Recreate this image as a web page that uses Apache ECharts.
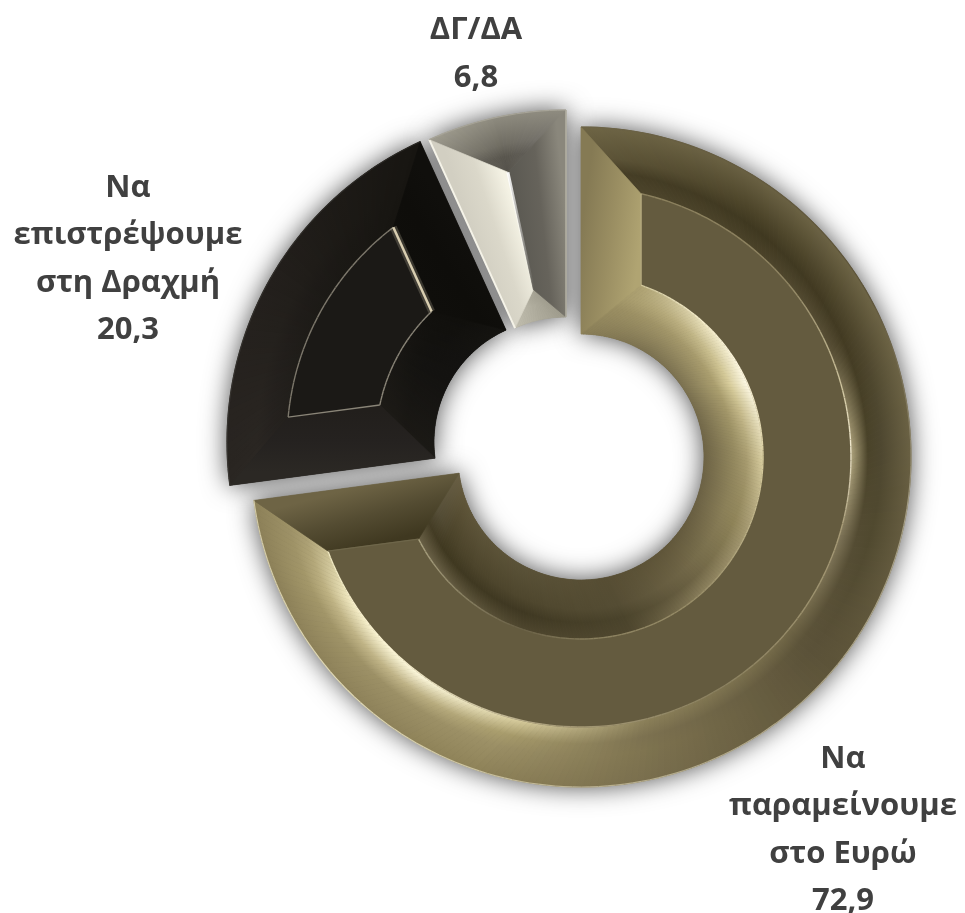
<!DOCTYPE html>
<html><head><meta charset="utf-8">
<style>html,body{margin:0;padding:0;background:#fff}#c{width:965px;height:913px}</style>
<script src="https://cdn.jsdelivr.net/npm/echarts@6/dist/echarts.min.js"></script>
</head><body><div id="c"></div>
<script>
// ---- data ----
const names = ['Να\nπαραμείνουμε\nστο Ευρώ', 'Να\nεπιστρέψουμε\nστη Δραχμή', 'ΔΓ/ΔΑ'];
const values = [72.9, 20.3, 6.8];

// ---- layout / style ----
const R = 330, HOLE = 123;
const centers = [[581, 457], [557, 442], [566, 440]];
const labelPos = [[843, 830], [128, 259], [476, 54]];
const baseColors = ['#645b3f', '#1b1916', '#8e8b7f'];
const bevel = [
  { w: 60, ro: 270, ri: 182 },
  { w: 60, ro: 270, ri: 181 },
  { w: 0, ro: 274, ri: 154 }
];
const outerKeys = [
  [[0,'#6e6545','#5c5337','#453d25','#4c442b'],[30,'#6a6143','#4c4429','#3f3820','#4a4229'],[60,'#6e6546','#4e462c','#423a22','#5a5138'],
   [85,'#6b6244','#4e4730','#4a4329','#b0a57e'],[105,'#645b3f','#50492f','#544c33','#80765a'],[130,'#5d5439','#5a5138','#5c5339','#716747'],
   [170,'#7a6f4e','#7f7450','#7c7150','#8b8059'],[200,'#8f8359','#9c9066','#a89c6c','#d8cd9e'],[225,'#8e825a','#9c9066','#c0b488','#fffbe0'],
   [250,'#8c8058','#a4986a','#bfb384','#f4ecc4'],[263,'#8c8058','#9c9066','#a89c70','#c8bd90']],
  [[262,'#2a2622','#2b2723','#272320','#23201c'],[300,'#231f1c','#211e1a','#1e1b18','#1c1a16'],[336,'#171511','#171511','#171511','#171511']],
  [[335,'#a09d90','#7d7a6f','#5f5c54','#5a574f'],[348,'#8e8b7f','#6f6c62','#58554d','#53504a'],[360,'#8f8c80','#74716a','#5f5c55','#5a574f']]
];
const innerKeys = [
  [[0,'#8a7f58','#9a8e62','#a89c6c','#aca070'],[30,'#7b7150','#a4986b','#c0b586','#f0e8c4'],[55,'#7b7150','#aca070','#d8cd9c','#fffbe8'],
   [85,'#6e6446','#94895f','#a89c70','#d8cd9f'],[110,'#6b6144','#8a7f58','#8f8459','#a89c74'],[140,'#5f5539','#6f6546','#6b6143','#8a7f5c'],
   [170,'#564d33','#544c33','#4a432b','#4e462e'],[210,'#5a5238','#4e462d','#3f3822','#4e462e'],[250,'#5f5539','#4a4229','#3f3820','#6a6147'],[263,'#6a6045','#57503a','#453d26','#6a6147']],
  [[262,'#1c1a16','#1a1814','#1c1a16','#1c1a16'],[300,'#131210','#131210','#141310','#181613'],[336,'#141310','#100f0c','#100f0c','#100f0c']],
  [[335,'#c2bfb0','#bab7a8','#aeab9c','#aeab9c'],[348,'#aeab9c','#aca99a','#a6a394','#a6a394'],[360,'#9e9b8c','#a09d8e','#a19e8f','#a19e8f']]
];
const outerRidge = [
  [[0,'#8a7f5c'],[50,'#8f8462'],[75,'#cfc59f'],[88,'#f2ead0'],[105,'#a89c78'],[150,'#8a805f'],[185,'#a89c78'],[225,'#fff8d8'],[250,'#f0e8c0'],[263,'#4b442e']],
  [[262,'#7d786c'],[336,'#7d786c']], null
];
const innerRidge = [
  [[0,'#b0a472'],[40,'#f6eecb'],[60,'#fff8e0'],[90,'#d8cd9f'],[140,'#9a8f6a'],[175,'#8a805f'],[200,'#6a6147'],[240,'#a8a07f'],[263,'#c4bb95']],
  [[262,'#8a8578'],[336,'#8a8578']], null
];
const rimLine = [
  [[0,'#6d6448'],[60,'#5c5339'],[100,'#a59e85'],[180,'#b9b090'],[225,'#e4ddba'],[263,'#cfc7a4']],
  [[262,'#3a3733'],[336,'#2a2824']],
  [[335,'#a7a498'],[360,'#a7a498']]
];
const startFacet = [['#857a54','#9a8e62','#b0a472'], ['#2b2824','#252220','#221f1c'], ['#d2cfc2','#dbd8ca','#f4f2e4']];
const endFacet = [['#6e6445','#544c32','#3f3820'], ['#100f0c','#0e0d0a','#0f0e0b'], ['#8a877c','#66635b','#5c5a53']];

const total = values.reduce((a, b) => a + b, 0);
const ranges = []; values.reduce((acc, v) => { const a = acc + v / total * 360; ranges.push([acc, a]); return a; }, 0);

function pt(c, r, deg) { const t = deg * Math.PI / 180; return [c[0] + r * Math.sin(t), c[1] - r * Math.cos(t)]; }
const lerp = (a, b, t) => a + (b - a) * t;
function rgb(h) { return [1, 3, 5].map(i => parseInt(h.substr(i, 2), 16)); }
function rgbStr(h) { return 'rgb(' + rgb(h).join(',') + ')'; }
function mix(a, b, t) { const x = rgb(a), y = rgb(b); return 'rgb(' + x.map((v, i) => Math.round(lerp(v, y[i], t))).join(',') + ')'; }
function keyAt(keys, th, col) {
  if (th <= keys[0][0]) return rgbStr(keys[0][col]);
  for (let i = 1; i < keys.length; i++) if (th <= keys[i][0]) {
    return mix(keys[i - 1][col], keys[i][col], (th - keys[i - 1][0]) / (keys[i][0] - keys[i - 1][0]));
  }
  return rgbStr(keys[keys.length - 1][col]);
}
function grad(p, q, stops) { return new echarts.graphic.LinearGradient(p[0], p[1], q[0], q[1], stops, true); }
function poly(points, fill) { return { type: 'polygon', silent: true, shape: { points }, style: { fill, stroke: fill, lineWidth: 0.7 } }; }

function band(c, rA, rB, a0, a1, b0, b1, keys, pos, out) {
  const n = Math.ceil((a1 - a0) / 1.2);
  for (let i = 0; i < n; i++) {
    const t0 = i / n, t1 = (i + 1) / n, tm = (t0 + t1) / 2, th = lerp(a0, a1, tm);
    const stops = pos.map((o, k) => ({ offset: lerp(rA, rB, o) / R, color: keyAt(keys, th, k + 1) }));
    stops.sort((x, y) => x.offset - y.offset);
    const g = new echarts.graphic.RadialGradient(c[0], c[1], R, stops, true);
    out.push(poly([pt(c, rA, lerp(a0, a1, t0)), pt(c, rA, lerp(a0, a1, t1)), pt(c, rB, lerp(b0, b1, t1)), pt(c, rB, lerp(b0, b1, t0))], g));
  }
}
function arcLine(c, r, a0, a1, keys, width, out) {
  const n = Math.ceil((a1 - a0) / 1.5);
  for (let i = 0; i < n; i++) {
    const t0 = lerp(a0, a1, i / n), t1 = lerp(a0, a1, (i + 1) / n);
    out.push({ type: 'polyline', silent: true, shape: { points: [pt(c, r, t0), pt(c, r, t1)] }, style: { fill: null, stroke: keyAt(keys, (t0 + t1) / 2, 1), lineWidth: width } });
  }
}
function segLine(p, q, color, width, out) {
  out.push({ type: 'polyline', silent: true, shape: { points: [p, q] }, style: { fill: null, stroke: color, lineWidth: width } });
}
function facet(pts, a, b, cols) {
  return poly(pts, grad(a, b, [{ offset: 0, color: cols[0] }, { offset: .5, color: cols[1] }, { offset: 1, color: cols[2] }]));
}
function drawSlice(i) {
  const out = [], c = centers[i], [a0, a1] = ranges[i], b = bevel[i], mid = (a0 + a1) / 2;
  const half = (a1 - a0) / 2;
  const d = r => b.w ? Math.asin(b.w / r) * 180 / Math.PI : half;
  const ro0 = a0 + d(b.ro), ro1 = a1 - d(b.ro), ri0 = a0 + d(b.ri), ri1 = a1 - d(b.ri);
  const pos = [0, .5, .72, 1];
  band(c, R, b.ro, a0, a1, ro0, ro1, outerKeys[i], pos, out);
  band(c, HOLE, b.ri, a0, a1, ri0, ri1, innerKeys[i], pos, out);
  const A = pt(c, R, a0), B = pt(c, b.ro, ro0), C = pt(c, b.ri, ri0), D = pt(c, HOLE, a0);
  const E = pt(c, R, a1), F = pt(c, b.ro, ro1), G = pt(c, b.ri, ri1), H = pt(c, HOLE, a1);
  out.push(facet([A, B, C, D], pt(c, 226, a0), pt(c, 226, a0 + d(226)), startFacet[i]));
  out.push(facet([E, F, G, H], pt(c, 226, a1), pt(c, 226, a1 - d(226)), endFacet[i]));
  if (b.w) {
    const pts = [];
    for (let t = ro0; t <= ro1; t += 1.2) pts.push(pt(c, b.ro, t));
    pts.push(F);
    for (let t = ri1; t >= ri0; t -= 1.2) pts.push(pt(c, b.ri, t));
    pts.push(C);
    out.push(poly(pts, baseColors[i]));
    arcLine(c, b.ro, ro0, ro1, outerRidge[i], 1.4, out);
    arcLine(c, b.ri, ri0, ri1, innerRidge[i], 1.4, out);
  }
  if (i === 0) {
    segLine(B, C, '#bdb285', 1.4, out);
    segLine(F, G, '#6e664a', 1.4, out);
  }
  if (i === 1) {
    segLine(F, G, 'rgba(216,205,176,.22)', 7, out);
    segLine(F, G, '#d8cdb0', 2.5, out);
    segLine(B, C, '#8a8578', 1.4, out);
  }
  if (i === 2) {
    const apex = pt(c, b.ro, mid), low = pt(c, b.ri, mid);
    out.push({ type: 'polyline', silent: true, shape: { points: [apex, low] }, style: { fill: null, lineWidth: 3,
      stroke: grad(apex, low, [{ offset: 0, color: 'rgba(255,255,255,.95)' }, { offset: .35, color: 'rgba(255,255,255,.5)' }, { offset: 1, color: 'rgba(255,255,255,0)' }]) } });
    segLine(A, D, '#f5f3e8', 2, out);
    segLine(E, H, '#b5b2a5', 1.5, out);
  }
  arcLine(c, R, a0, a1, rimLine[i], 1.2, out);
  return out;
}

const pies = values.map((_, i) => ({
  type: 'pie', silent: true, z: 1, animation: false, center: centers[i], radius: [HOLE, R],
  avoidLabelOverlap: false, emphasis: { disabled: true },
  labelLayout: { x: labelPos[i][0], y: labelPos[i][1], align: 'center', verticalAlign: 'middle' },
  data: names.map((n, j) => ({
    name: n, value: values[j],
    itemStyle: j === i ? { color: baseColors[i], shadowBlur: 26, shadowColor: 'rgba(0,0,0,.7)' } : { color: 'transparent', opacity: 0 },
    label: j === i ? {
      show: true, position: 'outside', formatter: p => p.name + '\n' + String(p.value).replace('.', ','),
      color: '#404040', fontFamily: 'Open Sans', fontWeight: 'bold', fontSize: 31, lineHeight: 47.5, align: 'center'
    } : { show: false },
    labelLine: { show: false }
  }))
}));

const chart = echarts.init(document.getElementById('c'), null, { renderer: 'canvas' });
chart.setOption({
  backgroundColor: '#fff', animation: false, tooltip: { show: false },
  series: pies.concat([{
    type: 'custom', coordinateSystem: 'none', silent: true, z: 5, animation: false, data: values,
    renderItem: params => ({ type: 'group', children: drawSlice(params.dataIndex) })
  }])
});
</script></body></html>
